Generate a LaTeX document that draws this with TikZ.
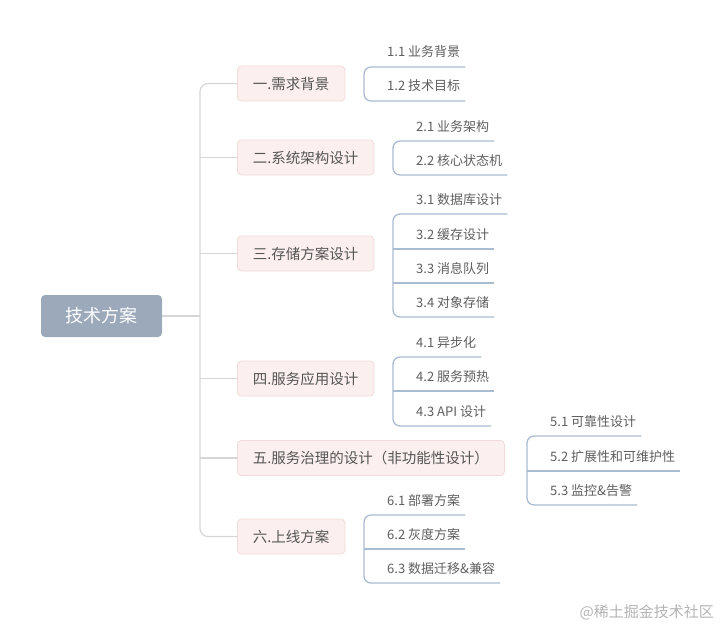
\documentclass[tikz,border=0pt]{standalone}
\usepackage{fontspec}
\newfontfamily\cjk{Noto Sans CJK SC}
\usetikzlibrary{calc}
\definecolor{rootfill}{HTML}{9BA9BA}
\definecolor{lonefill}{HTML}{FCEFEF}
\definecolor{lonedraw}{HTML}{F1DADA}
\definecolor{trunkcol}{HTML}{D6D6D6}
\definecolor{subcol}{HTML}{A9BCD1}
\definecolor{txtone}{HTML}{555555}
\definecolor{txtsub}{HTML}{5E5E5E}
\definecolor{wmcol}{HTML}{B3B3B3}
\tikzset{
  rootbox/.style={rectangle, rounded corners=4pt, fill=rootfill, text=white,
    font=\cjk\fontsize{18}{20}\selectfont, minimum width=121pt, minimum height=42pt, inner sep=0pt},
  lonebox/.style={rectangle, rounded corners=4pt, fill=lonefill, draw=lonedraw, line width=0.8pt,
    text=txtone, font=\cjk\fontsize{14.5}{16}\selectfont, minimum height=35pt, inner xsep=15.5pt,
    anchor=west},
  subitem/.style={anchor=base west, inner sep=0pt, text=txtsub, font=\cjk\fontsize{13}{15}\selectfont},
  trunkline/.style={draw=trunkcol, line width=1.2pt},
  subline/.style={draw=subcol, line width=1.3pt},
}
\newcommand{\myul}[1]{($(#1.base east)+(5,10)$)}
\newcommand{\myur}[1]{($(#1.base west)+(-23,10)$)}
\begin{document}
\begin{tikzpicture}[x=1pt,y=-1pt]
\useasboundingbox (0,0) rectangle (720,626);
% root
\node[rootbox] (root) at (101.5,316) {技术方案};
% level 1
\node[lonebox] (L1) at (237,83.5) {一.需求背景};
\node[lonebox] (L2) at (237,157.5) {二.系统架构设计};
\node[lonebox] (L3) at (237,253.5) {三.存储方案设计};
\node[lonebox] (L4) at (237,378.5) {四.服务应用设计};
\node[lonebox] (L5) at (237,458) {五.服务治理的设计（非功能性设计）};
\node[lonebox] (L6) at (237,536.5) {六.上线方案};
% trunk
\coordinate (T) at (200,316);
\draw[trunkline] (root.east) -- (T);
\draw[trunkline, rounded corners=8pt] (L1.west) -- (L1.west -| T) -- (L6.west -| T) -- (L6.west);
\foreach \k in {2,3,4,5}{\draw[trunkline] (L\k.west) -- (L\k.west -| T);}
% sub items
\node[subitem] (a1) at (387,57) {1.1 业务背景};
\node[subitem] (a2) at (387,91) {1.2 技术目标};
\node[subitem] (b1) at (416,131) {2.1 业务架构};
\node[subitem] (b2) at (416,165) {2.2 核心状态机};
\node[subitem] (c1) at (416,204) {3.1 数据库设计};
\node[subitem] (c2) at (416,239) {3.2 缓存设计};
\node[subitem] (c3) at (416,273) {3.3 消息队列};
\node[subitem] (c4) at (416,307) {3.4 对象存储};
\node[subitem] (d1) at (416,347) {4.1 异步化};
\node[subitem] (d2) at (416,381) {4.2 服务预热};
\node[subitem] (d3) at (416,416) {4.3 API 设计};
\node[subitem] (e1) at (550,426) {5.1 可靠性设计};
\node[subitem] (e2) at (550,461) {5.2 扩展性和可维护性};
\node[subitem] (e3) at (550,495) {5.3 监控\&告警};
\node[subitem] (f1) at (387,505) {6.1 部署方案};
\node[subitem] (f2) at (387,539) {6.2 灰度方案};
\node[subitem] (f3) at (387,573) {6.3 数据迁移\&兼容};
% brackets
\foreach \g/\first/\last/\lbox in {A/a1/a2/L1, B/b1/b2/L2, C/c1/c4/L3, D/d1/d3/L4, E/e1/e3/L5, F/f1/f3/L6}{
  \coordinate (g\g) at \myur{\first};
  \draw[subline] (\lbox.east) -- (\lbox.east -| g\g);
  \draw[subline, rounded corners=7pt] \myul{\first} -- \myur{\first} -- \myur{\last} -- \myul{\last};
}
\foreach \m in {c2,c3,d2,e2,f2}{\draw[subline] \myul{\m} -- \myur{\m};}
% watermark
\node[anchor=east, text=wmcol, font=\cjk\fontsize{15}{17}\selectfont, inner sep=0pt] (wm) at (714,612) {@稀土掘金技术社区};
\end{tikzpicture}
\end{document}
